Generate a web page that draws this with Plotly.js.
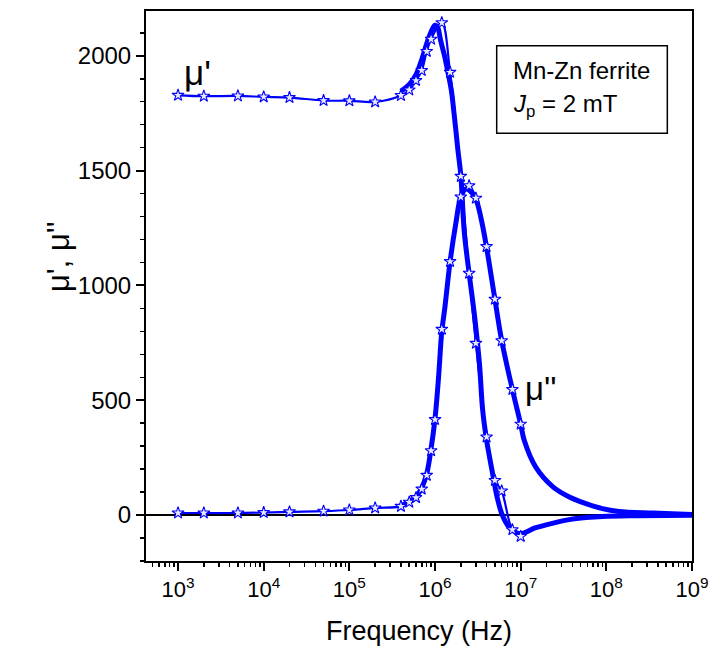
<!DOCTYPE html>
<html>
<head>
<meta charset="utf-8">
<script src="https://cdn.plot.ly/plotly-3.0.1.min.js"></script>
<style>html,body{margin:0;padding:0;background:#fff}#chart{width:712px;height:655px}</style>
</head>
<body>
<div id="chart"></div>
<script>
// Measured points (stars)
const freqMuP = [1e3,2e3,5e3,1e4,2e4,5e4,1e5,2e5,4e5,5e5,6e5,7e5,8e5,9e5,1.2e6,1.5e6,2e6,2.5e6,3e6,4e6,5e6,6e6,8e6,1e7];
const muP     = [1828,1824,1825,1821,1818,1805,1804,1799,1827,1851,1892,1936,2019,2072,2144,1928,1475,1053,748,340,151,105,-64,-93];
const freqMuPP = [1e3,2e3,5e3,1e4,2e4,5e4,1e5,2e5,4e5,5e5,6e5,7e5,8e5,9e5,1e6,1.2e6,1.5e6,2e6,2.5e6,3e6,4e6,5e6,6e6,8e6,1e7];
const muPP     = [9,9,9,11,14,17,22,31,38,56,76,113,173,280,416,809,1104,1385,1434,1380,1169,940,759,547,396];
// Dense (calculated) curves
const freqDenseP = [4e5,5e5,6e5,7e5,8e5,9e5,1e6,1.07e6,1.16e6,1.3e6,1.4e6,1.55e6,1.7e6,1.85e6,2e6,2.2e6,2.5e6,2.9e6,3.3e6,3.6e6,4e6,4.7e6,5.3e6,6.1e6,7.4e6,9.8e6,1.5e7,2.4e7,3.7e7,5.8e7,9e7,2.3e8,1e9];
const denseP     = [1846,1875,1918,1984,2053,2104,2133,2126,2068,1995,1937,1850,1720,1590,1480,1229,1053,864,660,457,326,181,79,0,-55,-81,-55,-35,-20,-11,-6,-3,-1];
const freqDensePP = [4e5,5e5,6e5,7e5,8e5,9e5,1e6,1.1e6,1.2e6,1.3e6,1.5e6,1.75e6,2e6,2.3e6,2.5e6,3e6,3.5e6,4e6,5e6,6e6,8e6,1e7,1.1e7,1.5e7,2.4e7,3.7e7,5.8e7,9e7,1.4e8,3.5e8,1e9];
const densePP     = [40,58,80,118,180,290,420,600,800,900,1104,1270,1385,1420,1415,1375,1280,1165,940,760,547,396,326,209,122,79,50,28,16,9,3];
// Axis ticks
const xTickVals = [1e3,1e4,1e5,1e6,1e7,1e8,1e9];
const xTickText = ['10<sup>3</sup>','10<sup>4</sup>','10<sup>5</sup>','10<sup>6</sup>','10<sup>7</sup>','10<sup>8</sup>','10<sup>9</sup>'];

const blue = '#0000ff';
const minorX = [];
for (let d = 2; d <= 8; d++) for (let m = 2; m <= 9; m++) minorX.push(m * Math.pow(10, d));

const traces = [
  {x: freqDensePP, y: densePP, mode: 'lines', line: {color: blue, width: 5, shape: 'spline'}, name: "μ'' fit", showlegend: false},
  {x: freqDenseP, y: denseP, mode: 'lines', line: {color: blue, width: 5, shape: 'spline'}, name: "μ' fit", showlegend: false},
  {x: freqMuP, y: muP, mode: 'lines+markers', line: {color: blue, width: 2.2, shape: 'spline'},
   marker: {symbol: 'star', size: 9, color: '#e8e8ff', line: {color: blue, width: 1.1}}, name: "μ'", showlegend: false},
  {x: freqMuPP, y: muPP, mode: 'lines+markers', line: {color: blue, width: 2.2, shape: 'spline'},
   marker: {symbol: 'star', size: 9, color: '#e8e8ff', line: {color: blue, width: 1.1}}, name: "μ''", showlegend: false}
];

const font = 'Liberation Sans, Arial, sans-serif';
const layout = {
  width: 712, height: 655,
  margin: {l: 146, r: 20, t: 11, b: 94},
  paper_bgcolor: '#fff', plot_bgcolor: '#fff',
  font: {family: font, color: '#000'},
  showlegend: false,
  xaxis: {
    type: 'log', range: [2.626, 9.0],
    tickmode: 'array', tickvals: xTickVals, ticktext: xTickText,
    ticks: 'outside', ticklen: 8, tickwidth: 2, tickcolor: '#000',
    minor: {tickmode: 'array', tickvals: minorX, ticks: 'outside', ticklen: 4, tickwidth: 1.5, tickcolor: '#000', showgrid: false},
    showline: true, linecolor: '#000', linewidth: 2, mirror: true,
    showgrid: false, zeroline: false,
    tickfont: {size: 22, family: font},
    title: {text: 'Frequency (Hz)', font: {size: 27, family: font}, standoff: 20}
  },
  yaxis: {
    range: [-200, 2195],
    tickmode: 'linear', tick0: 0, dtick: 500,
    ticks: 'outside', ticklen: 8, tickwidth: 2, tickcolor: '#000',
    minor: {dtick: 100, ticks: 'outside', ticklen: 4, tickwidth: 1.5, tickcolor: '#000', showgrid: false},
    showline: true, linecolor: '#000', linewidth: 2, mirror: true,
    showgrid: false, zeroline: true, zerolinecolor: '#000', zerolinewidth: 1.5,
    tickfont: {size: 24, family: font}
  },
  shapes: [
    {type: 'rect', xref: 'paper', yref: 'paper', x0: 0.6423, x1: 0.9548, y0: 0.7776, y1: 0.9369,
     line: {color: '#000', width: 1.5}, fillcolor: 'rgba(0,0,0,0)'}
  ],
  annotations: [
    {xref: 'paper', yref: 'paper', x: 0.668, y: 0.892, xanchor: 'left', yanchor: 'middle', showarrow: false,
     text: 'Mn-Zn ferrite', font: {size: 24, family: font}},
    {xref: 'paper', yref: 'paper', x: 0.668, y: 0.828, xanchor: 'left', yanchor: 'middle', showarrow: false,
     text: '<i>J</i><sub>p</sub> = 2 mT', font: {size: 24, family: font}},
    {xref: 'paper', yref: 'paper', x: (182-146)/546, y: 1-(72-11)/550, xanchor: 'left', yanchor: 'middle', showarrow: false,
     text: "μ'", font: {size: 35, family: font}},
    {xref: 'paper', yref: 'paper', x: (523-146)/546, y: 1-(388-11)/550, xanchor: 'left', yanchor: 'middle', showarrow: false,
     text: "μ''", font: {size: 33, family: font}},
    {xref: 'paper', yref: 'paper', x: (58-146)/546, y: 1-(257-11)/550, xanchor: 'center', yanchor: 'middle', showarrow: false,
     textangle: -90, text: "μ', μ''", font: {size: 31, family: font}}
  ]
};

Plotly.newPlot('chart', traces, layout, {displayModeBar: false, staticPlot: true});
</script>
</body>
</html>
